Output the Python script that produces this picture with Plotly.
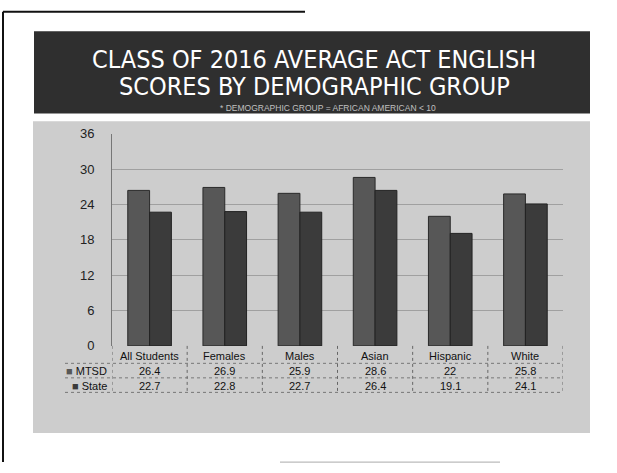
import plotly.graph_objects as go

categories = ["All Students", "Females", "Males", "Asian", "Hispanic", "White"]
mtsd = [26.4, 26.9, 25.9, 28.6, 22, 25.8]
state = [22.7, 22.8, 22.7, 26.4, 19.1, 24.1]
series_names = ["MTSD", "State"]
y_ticks = [0, 6, 12, 18, 24, 30, 36]

W, H = 617, 473
def px(x):
    return x / W
def py(y):
    return 1 - y / H

C_MTSD = "#575757"
C_STATE = "#3b3b3b"

fig = go.Figure()
fig.add_trace(go.Bar(x=categories, y=mtsd, name=series_names[0],
                     marker=dict(color=C_MTSD, line=dict(color="#2a2a2a", width=1))))
fig.add_trace(go.Bar(x=categories, y=state, name=series_names[1],
                     marker=dict(color=C_STATE, line=dict(color="#222222", width=1))))

shapes = []
# page border
shapes.append(dict(type="line", xref="paper", yref="paper", x0=px(3), x1=px(3), y0=py(5), y1=py(470),
                   line=dict(color="#111", width=2)))
shapes.append(dict(type="line", xref="paper", yref="paper", x0=px(3), x1=px(305), y0=py(5), y1=py(5),
                   line=dict(color="#111", width=2)))
shapes.append(dict(type="line", xref="paper", yref="paper", x0=px(280), x1=px(500), y0=py(470), y1=py(470),
                   line=dict(color="#aaa", width=1)))
# chart background
shapes.append(dict(type="rect", xref="paper", yref="paper", x0=px(33), x1=px(590), y0=py(440), y1=py(118),
                   fillcolor="#cdcdcd", line=dict(width=0), layer="below"))
# banner
shapes.append(dict(type="rect", xref="paper", yref="paper", x0=px(34), x1=px(590), y0=py(110), y1=py(25),
                   fillcolor="#2f2f2f", line=dict(width=0), layer="below"))

# table lines
for yy in [368, 383, 398]:
    shapes.append(dict(type="line", xref="paper", yref="paper", x0=px(65), x1=px(563), y0=py(yy), y1=py(yy),
                       line=dict(color="#777", width=1, dash="dot")))
for k in range(len(categories) + 1):
    shapes.append(dict(type="line", xref="x", yref="paper", x0=k - 0.5, x1=k - 0.5, y0=py(350), y1=py(398),
                       line=dict(color="#666", width=1, dash="dot")))

annotations = []
tf_title = dict(family="DejaVu Sans Condensed, DejaVu Sans, Liberation Sans", size=25, color="white")
annotations.append(dict(text="CLASS OF 2016 AVERAGE ACT ENGLISH",
                        xref="paper", yref="paper", x=px(314), y=py(54), xanchor="center", yanchor="middle",
                        showarrow=False, font=tf_title))
annotations.append(dict(text="SCORES BY DEMOGRAPHIC GROUP",
                        xref="paper", yref="paper", x=px(314), y=py(82), xanchor="center", yanchor="middle",
                        showarrow=False, font=tf_title))
annotations.append(dict(text="* DEMOGRAPHIC GROUP = AFRICAN AMERICAN < 10",
                        xref="paper", yref="paper", x=px(328), y=py(104.5), xanchor="center", yanchor="middle",
                        showarrow=False,
                        font=dict(family="Liberation Sans", size=8.5, color="#c0c0c0")))
tfont = dict(family="Liberation Sans", size=11, color="#111")
for i, c in enumerate(categories):
    annotations.append(dict(text=c, xref="x", yref="paper", x=i, y=py(360), showarrow=False,
                            xanchor="center", yanchor="middle", font=tfont))
    annotations.append(dict(text=str(mtsd[i]), xref="x", yref="paper", x=i, y=py(376), showarrow=False,
                            xanchor="center", yanchor="middle", font=tfont))
    annotations.append(dict(text=str(state[i]), xref="x", yref="paper", x=i, y=py(391), showarrow=False,
                            xanchor="center", yanchor="middle", font=tfont))
annotations.append(dict(text="<span style='color:%s'>■</span> %s" % (C_MTSD, series_names[0]), xref="paper",
                        yref="paper", x=px(109), y=py(376), xanchor="right", yanchor="middle", showarrow=False,
                        font=tfont))
annotations.append(dict(text="<span style='color:%s'>■</span> %s" % (C_STATE, series_names[1]), xref="paper",
                        yref="paper", x=px(109), y=py(391), xanchor="right", yanchor="middle", showarrow=False,
                        font=tfont))

fig.update_layout(
    width=W, height=H,
    margin=dict(l=0, r=0, t=0, b=0),
    paper_bgcolor="white",
    plot_bgcolor="rgba(0,0,0,0)",
    barmode="group",
    bargap=0.42,
    bargroupgap=0,
    showlegend=False,
    shapes=shapes,
    annotations=annotations,
    xaxis=dict(domain=[px(112), px(563)], showticklabels=False, showgrid=False, zeroline=False,
               showline=False, range=[-0.5, 5.5]),
    yaxis=dict(domain=[py(350), py(131)], range=[0, 36], tickvals=y_ticks, showgrid=True,
               gridcolor="#a0a0a0", gridwidth=1, zeroline=False, showline=True, linecolor="#777",
               linewidth=1, ticks="", ticklabelstandoff=14,
               tickfont=dict(family="Liberation Sans", size=13, color="#222")),
)

fig.write_html("out.html", config={"displayModeBar": False},
               post_script="document.body.style.margin='0px';document.body.style.overflow='hidden';")
